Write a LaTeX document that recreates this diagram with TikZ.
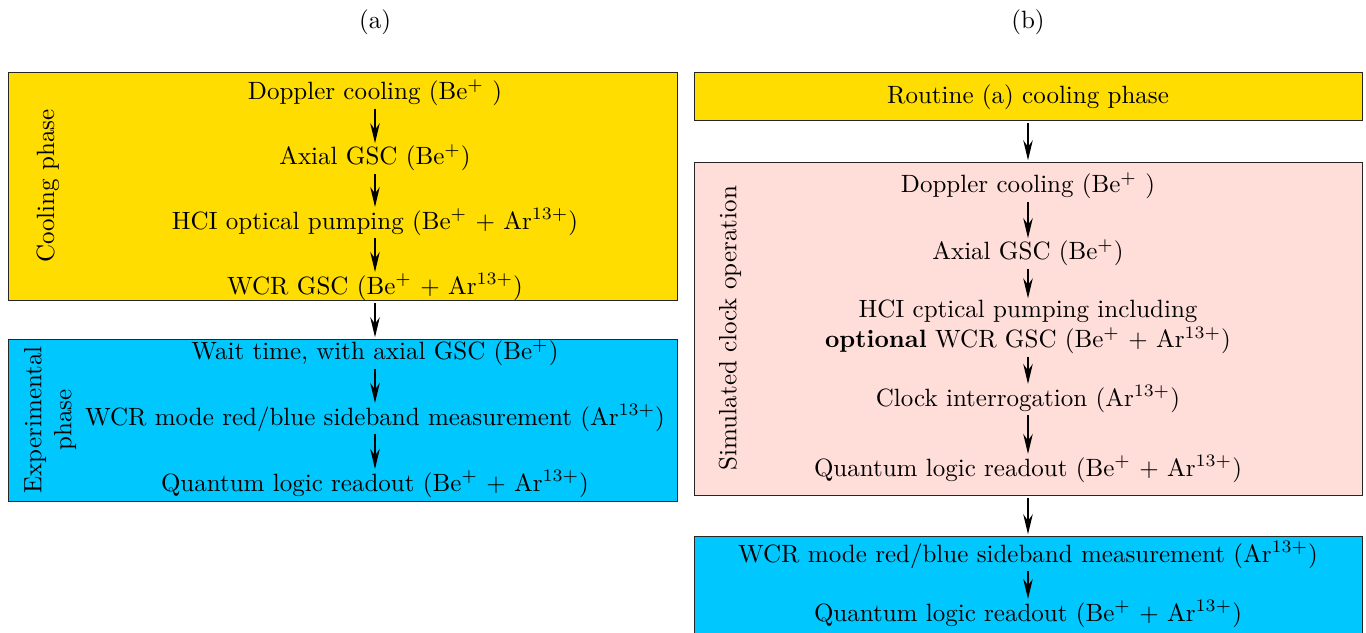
\documentclass[tikz,border=0pt]{standalone}
\usepackage{amsmath}
\usepackage{xcolor}
\usepackage{tikz}
\usetikzlibrary{arrows.meta,fit,positioning}

\definecolor{coolyellow}{RGB}{255,221,0}
\definecolor{exptblue}{RGB}{0,200,255}
\definecolor{clockpink}{RGB}{255,221,216}

\tikzset{
  box/.style={draw=black!85, line width=0.4pt, inner sep=0pt},
  txt/.style={inner sep=0pt},
  side/.style={rotate=90, align=center, inner sep=0pt},
  arr/.style={-{Stealth[length=8pt,width=3.8pt]}, line width=0.5pt, shorten >=0.5pt, shorten <=1pt}
}

\begin{document}
\begin{tikzpicture}[x=0.4pt, y=-0.4pt]
  \useasboundingbox (0,0) rectangle (1366,633);

  \node (la) at (375,22) {(a)};
  \node (lb) at (1028,22) {(b)};

  % routine (a)
  \node[box, fill=coolyellow, fit={(8,72) (677,300)}] (cool) {};
  \node[box, fill=exptblue, fit={(8,339) (677,501)}] (expt) {};
  \node[side] (coollab) at (48,186) {Cooling phase};
  \node[side] (exptlab) at (50,420) {Experimental\\phase};

  \node[txt] (a1) at (375,93) {Doppler cooling (Be$^+$ )};
  \node[txt] (a2) at (375,158) {Axial GSC (Be$^+$)};
  \node[txt] (a3) at (375,222) {HCI optical pumping (Be$^+$ + Ar$^{13+}$)};
  \node[txt] (a4) at (375,287) {WCR GSC (Be$^+$ + Ar$^{13+}$)};
  \node[txt] (a5) at (375,353) {Wait time, with axial GSC (Be$^+$)};
  \node[txt] (a6) at (375,418) {WCR mode red/blue sideband measurement (Ar$^{13+}$)};
  \node[txt] (a7) at (375,484) {Quantum logic readout (Be$^+$ + Ar$^{13+}$)};

  \draw[arr] (a1) -- (a2);
  \draw[arr] (a2) -- (a3);
  \draw[arr] (a3) -- (a4);
  \draw[arr] (cool.south -| a4) -- (expt.north -| a5);
  \draw[arr] (a5) -- (a6);
  \draw[arr] (a6) -- (a7);

  % routine (b)
  \node[box, fill=coolyellow, fit={(694,72) (1362,120)}] (routine) {};
  \node[box, fill=clockpink, fit={(694,162) (1362,495)}] (clock) {};
  \node[box, fill=exptblue, fit={(694,536) (1362,640)}] (meas) {};
  \node[side] (clocklab) at (730,328) {Simulated clock operation};

  \node[txt] (r1) at (1028,97) {Routine (a) cooling phase};
  \node[txt] (b1) at (1028,186) {Doppler cooling (Be$^+$ )};
  \node[txt] (b2) at (1028,253) {Axial GSC (Be$^+$)};
  \node[txt, align=center] (b3) at (1028,327) {HCI cptical pumping including\\\textbf{optional} WCR GSC (Be$^+$ + Ar$^{13+}$)};
  \node[txt] (b4) at (1028,399) {Clock interrogation (Ar$^{13+}$)};
  \node[txt] (b5) at (1028,469) {Quantum logic readout (Be$^+$ + Ar$^{13+}$)};
  \node[txt] (b6) at (1028,555) {WCR mode red/blue sideband measurement (Ar$^{13+}$)};
  \node[txt] (b7) at (1028,614) {Quantum logic readout (Be$^+$ + Ar$^{13+}$)};

  \draw[arr] (routine) -- (clock);
  \draw[arr] (b1) -- (b2);
  \draw[arr] (b2) -- (b3);
  \draw[arr] (b3) -- (b4);
  \draw[arr] (b4) -- (b5);
  \draw[arr] (clock) -- (meas);
  \draw[arr] (b6) -- (b7);
\end{tikzpicture}
\end{document}
